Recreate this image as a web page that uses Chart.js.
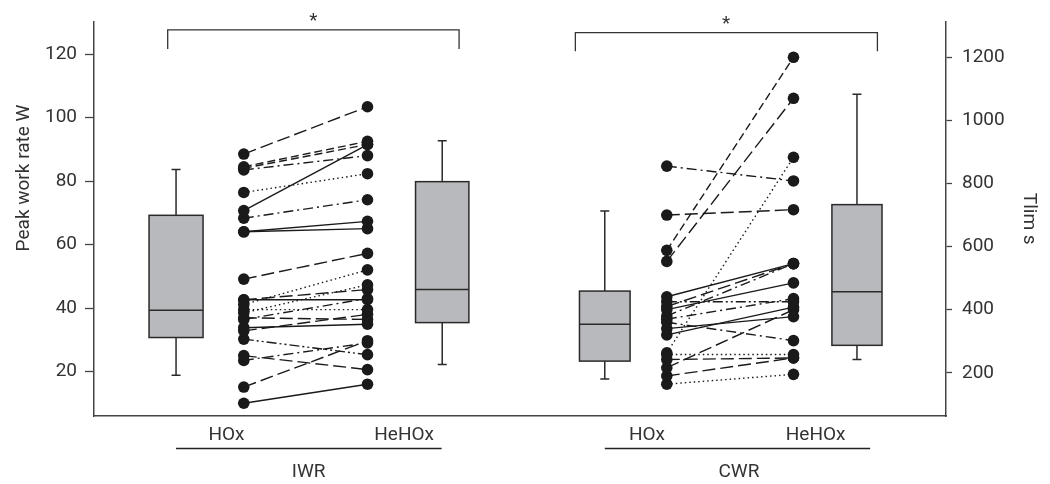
<!DOCTYPE html>
<html>
<head>
<meta charset="utf-8">
<script src="https://cdn.jsdelivr.net/npm/chart.js@4.4.1/dist/chart.umd.min.js"></script>
<style>
  body { margin: 0; background: #fff; }
  #wrap { width: 1050px; height: 484px; }
</style>
</head>
<body>
<div id="wrap"><canvas id="pairChart" width="1050" height="484"></canvas></div>
<script>
    /*global Chart*/
    // paired values, IWR (peak work rate, W)
    var iwrHOx   = [88.5, 84.5, 84.0, 83.5, 76.4, 70.7, 68.3, 64.0, 64.0, 49.1, 41.1, 42.6, 42.6, 38.5, 39.5, 36.9, 36.4, 33.8, 32.8, 30.2, 25.0, 23.5, 15.1, 10.0];
    var iwrHeHOx = [103.4, 92.5, 91.5, 88.0, 82.3, 91.5, 74.1, 67.3, 65.0, 57.2, 52.0, 45.8, 42.6, 47.3, 39.5, 36.4, 43.0, 34.9, 38.0, 25.3, 20.6, 29.0, 29.7, 16.0];
    var iwrStyle = ['long','dash','dash','dashdot','dot','solid','dashdot','solid','solid','long','dot','long','solid','dot','dot','long','dashdot','solid','long','dashdotdot','long','dashdot','long','solid'];

    // paired values, CWR (Tlim, s)
    var cwrHOx   = [855, 700, 588, 553, 441, 425, 410, 400, 380, 370, 360, 340, 320, 263, 258, 242, 216, 190, 164];
    var cwrHeHOx = [808, 717, 1200, 1070, 546, 425, 546, 485, 546, 435, 302, 378, 408, 883, 258, 247, 400, 247, 195];
    var cwrStyle = ['dashdot','long','dash','long','solid','dashdotdot','long','solid','dashdot','dashdot','dashdot','solid','solid','dot','dot','long','long','long','dot'];

    // box stats: whisker low, Q1, median, Q3, whisker high
    var iwrBoxHOx   = [18.8, 30.7, 39.3, 69.2, 83.6];
    var iwrBoxHeHOx = [22.2, 35.4, 45.8, 79.8, 92.7];
    var cwrBoxHOx   = [180, 237, 354, 459, 713];
    var cwrBoxHeHOx = [242, 287, 457, 733, 1083];

    // significance brackets: [top, leg end]
    var iwrBracket = [127.6, 121.6];
    var cwrBracket = [1278, 1219];

    var xTickLabels = ['HOx', 'HeHOx', 'HOx', 'HeHOx'];
    var groupLabels = ['IWR', 'CWR'];
    var yLeftTicks = [20, 40, 60, 80, 100, 120];
    var yRightTicks = [200, 400, 600, 800, 1000, 1200];

    // layout (x in 0..100 units across the plot)
    var xTickPos = [15.55, 36.4, 64.9, 84.7];
    var pos = {iwrBox1: 9.63, iwrHOx: 17.58, iwrHeHOx: 32.1, iwrBox2: 40.87,
               cwrBox1: 59.95, cwrHOx: 67.23, cwrHeHOx: 82.1, cwrBox2: 89.55};
    var groupLine = [[9.63, 40.8], [59.95, 91.1]];
    var groupMid = [25.2, 75.7];

    var ink = '#1a1a1a';
    var textCol = '#333';
    var font = 'Roboto';
    var dashes = {
        solid: [], long: [13, 5], dash: [8, 4], dashdot: [10, 4, 2, 4],
        dashdotdot: [10, 3, 2, 3, 2, 3], dot: [1.5, 3]
    };

    var datasets = [];
    function addPairs(a, b, style, x0, x1, axis) {
        for (var i = 0; i < a.length; i++) {
            datasets.push({
                data: [{x: x0, y: a[i]}, {x: x1, y: b[i]}],
                yAxisID: axis,
                showLine: true,
                borderColor: ink,
                borderWidth: 1.4,
                borderDash: dashes[style[i]],
                pointRadius: 5.8,
                pointBackgroundColor: ink,
                pointBorderColor: ink,
                pointBorderWidth: 0
            });
        }
    }
    addPairs(iwrHOx, iwrHeHOx, iwrStyle, pos.iwrHOx, pos.iwrHeHOx, 'y');
    addPairs(cwrHOx, cwrHeHOx, cwrStyle, pos.cwrHOx, pos.cwrHeHOx, 'y2');

    function addBracket(b, x0, x1, axis) {
        datasets.push({
            data: [{x: x0, y: b[1]}, {x: x0, y: b[0]}, {x: x1, y: b[0]}, {x: x1, y: b[1]}],
            yAxisID: axis, showLine: true, borderColor: '#333', borderWidth: 1.3,
            pointRadius: 0
        });
    }
    addBracket(iwrBracket, 8.65, 42.85, 'y');
    addBracket(cwrBracket, 56.5, 91.95, 'y2');

    var boxes = [
        {x: pos.iwrBox1, half: 3.17, stats: iwrBoxHOx, axis: 'y'},
        {x: pos.iwrBox2, half: 3.13, stats: iwrBoxHeHOx, axis: 'y'},
        {x: pos.cwrBox1, half: 2.97, stats: cwrBoxHOx, axis: 'y2'},
        {x: pos.cwrBox2, half: 2.94, stats: cwrBoxHeHOx, axis: 'y2'}
    ];

    var boxPlugin = {
        id: 'boxes',
        beforeDatasetsDraw: function(chart) {
            var ctx = chart.ctx, xs = chart.scales.x;
            ctx.save();
            ctx.strokeStyle = '#2a2a2a';
            ctx.lineWidth = 1.5;
            boxes.forEach(function(b) {
                var ys = chart.scales[b.axis];
                var xc = xs.getPixelForValue(b.x);
                var hw = xs.getPixelForValue(b.x + b.half) - xc;
                var p = b.stats.map(function(v) { return ys.getPixelForValue(v); });
                ctx.beginPath();
                ctx.moveTo(xc, p[0]); ctx.lineTo(xc, p[1]);
                ctx.moveTo(xc, p[3]); ctx.lineTo(xc, p[4]);
                ctx.moveTo(xc - 4.5, p[0]); ctx.lineTo(xc + 4.5, p[0]);
                ctx.moveTo(xc - 4.5, p[4]); ctx.lineTo(xc + 4.5, p[4]);
                ctx.stroke();
                ctx.fillStyle = '#b8b9bd';
                ctx.fillRect(xc - hw, p[3], 2 * hw, p[1] - p[3]);
                ctx.strokeRect(xc - hw, p[3], 2 * hw, p[1] - p[3]);
                ctx.beginPath();
                ctx.moveTo(xc - hw, p[2]); ctx.lineTo(xc + hw, p[2]);
                ctx.stroke();
            });
            ctx.restore();
        },
        afterDraw: function(chart) {
            var ctx = chart.ctx, xs = chart.scales.x;
            ctx.save();
            ctx.fillStyle = textCol;
            ctx.strokeStyle = '#222';
            ctx.lineWidth = 1.4;
            ctx.font = '19px ' + font;
            ctx.textAlign = 'center';
            ctx.textBaseline = 'middle';
            for (var g = 0; g < 2; g++) {
                ctx.beginPath();
                ctx.moveTo(xs.getPixelForValue(groupLine[g][0]), 448.5);
                ctx.lineTo(xs.getPixelForValue(groupLine[g][1]), 448.5);
                ctx.stroke();
                ctx.fillText(groupLabels[g], xs.getPixelForValue(groupMid[g]), 472);
            }
            // left axis title sits above the middle of the axis in the original
            ctx.save();
            ctx.translate(24, 178);
            ctx.rotate(-Math.PI / 2);
            ctx.fillText('Peak work rate W', 0, 0);
            ctx.restore();
            ctx.textBaseline = 'alphabetic';
            ctx.fillText('*', xs.getPixelForValue(25.75), 26);
            ctx.fillText('*', xs.getPixelForValue(74.2), 29);
            ctx.restore();
        }
    };

    var tickFont = {family: font, size: 19};
    function plain(v) { return String(v); }

    var ctx = document.getElementById('pairChart').getContext('2d');
    new Chart(ctx, {
        type: 'scatter',
        data: {datasets: datasets},
        options: {
            responsive: false,
            animation: false,
            layout: {padding: {top: 17, left: 0, right: 0, bottom: 0}},
            plugins: {legend: {display: false}, tooltip: {enabled: false}},
            scales: {
                x: {
                    type: 'linear', min: 0, max: 100,
                    afterBuildTicks: function(s) { s.ticks = xTickPos.map(function(v) { return {value: v}; }); },
                    afterFit: function(s) { s.height = 68; },
                    ticks: {
                        autoSkip: false, maxRotation: 0, padding: 8,
                        color: textCol, font: tickFont,
                        callback: function(v, i) { return xTickLabels[i]; }
                    },
                    grid: {drawOnChartArea: false, drawTicks: false},
                    border: {color: '#444', width: 1.5}
                },
                y: {
                    position: 'left', min: 5.98, max: 130.28,
                    afterBuildTicks: function(s) { s.ticks = yLeftTicks.map(function(v) { return {value: v}; }); },
                    afterFit: function(s) { s.width = 94; },
                    ticks: {color: textCol, font: tickFont, padding: 8, callback: plain},
                    grid: {drawOnChartArea: false, tickLength: 9, color: '#444', tickWidth: 1.3},
                    border: {color: '#444', width: 1.5}
                },
                y2: {
                    position: 'right', min: 63, max: 1313.8,
                    afterBuildTicks: function(s) { s.ticks = yRightTicks.map(function(v) { return {value: v}; }); },
                    afterFit: function(s) { s.width = 104; },
                    ticks: {color: textCol, font: tickFont, padding: 10, callback: plain},
                    grid: {drawOnChartArea: false, tickLength: 6, color: '#444', tickWidth: 1.3},
                    border: {color: '#444', width: 1.5},
                    title: {display: true, text: 'Tlim s', color: textCol,
                            font: {family: font, size: 19}, padding: {top: 10, bottom: 0}}
                }
            }
        },
        plugins: [boxPlugin]
    });
</script>
</body>
</html>
